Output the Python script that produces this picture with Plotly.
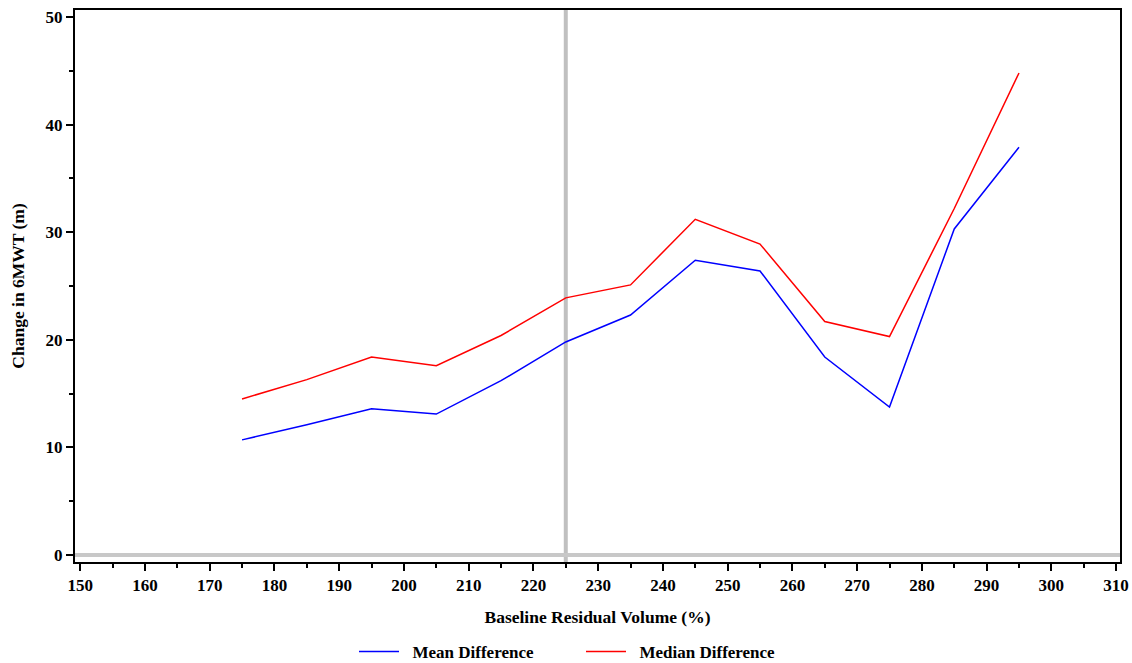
import plotly.graph_objects as go

# Baseline residual volume bins (%) and change in 6MWT (m)
rv_bins = [175, 185, 195, 205, 215, 225, 235, 245, 255, 265, 275, 285, 295]
mean_diff = [10.7, 12.1, 13.6, 13.1, 16.2, 19.8, 22.3, 27.4, 26.4, 18.4, 13.75, 30.3, 37.9]
median_diff = [14.5, 16.3, 18.4, 17.6, 20.4, 23.9, 25.1, 31.2, 28.9, 21.7, 20.3, 32.2, 44.8]

x_ticks = list(range(150, 311, 10))
y_ticks = [0, 10, 20, 30, 40, 50]
ref_x = 225
ref_y = 0

serif = "Liberation Serif"
tick_font = dict(family=serif, size=17, color="black", weight="bold")
title_font = dict(family=serif, size=17.5, color="black", weight="bold")

fig = go.Figure()

# Reference lines (drawn beneath the data)
fig.add_vline(x=ref_x, line=dict(color="#c0c0c0", width=4), layer="below")
fig.add_hline(y=ref_y, line=dict(color="#c8c8c8", width=4), layer="below")

fig.add_trace(go.Scatter(x=rv_bins, y=mean_diff, mode="lines", name="\u2002Mean Difference",
                         line=dict(color="#0000ff", width=1.5)))
fig.add_trace(go.Scatter(x=rv_bins, y=median_diff, mode="lines", name="\u2002Median Difference",
                         line=dict(color="#ff0000", width=1.5)))

fig.update_layout(
    width=1132, height=663,
    margin=dict(l=75, r=12, t=10, b=101, autoexpand=False),
    paper_bgcolor="white", plot_bgcolor="white",
    font=dict(family=serif, color="black"),
    showlegend=True,
    legend=dict(orientation="h", xref="container", x=354 / 1132, xanchor="left",
                yref="container", y=11 / 663, yanchor="middle",
                font=dict(family=serif, size=17, color="black", weight="bold"),
                itemwidth=40, entrywidth=172),
)

fig.update_xaxes(
    range=[149.2, 310.6], tickvals=x_ticks, ticktext=[str(v) for v in x_ticks],
    automargin=False,
    showgrid=False, zeroline=False,
    showline=True, linecolor="black", linewidth=2, mirror=True,
    ticks="outside", ticklen=7, tickwidth=1.5, tickcolor="black",
    minor=dict(dtick=5, tick0=150, ticks="outside", ticklen=4, tickwidth=1.5, tickcolor="black"),
    tickfont=tick_font,
    title=dict(text="Baseline Residual Volume (%)", standoff=16, font=title_font),
)

fig.update_yaxes(
    range=[-0.65, 50.65], tickvals=y_ticks, ticktext=[str(v) for v in y_ticks],
    automargin=False,
    showgrid=False, zeroline=False,
    showline=True, linecolor="black", linewidth=2, mirror=True,
    ticks="outside", ticklen=7, tickwidth=1.5, tickcolor="black",
    minor=dict(dtick=5, tick0=0, ticks="outside", ticklen=4, tickwidth=1.5, tickcolor="black"),
    tickfont=tick_font,
    title=dict(text="Change in 6MWT (m)", standoff=16, font=title_font),
)

fig.write_html("out.html")
